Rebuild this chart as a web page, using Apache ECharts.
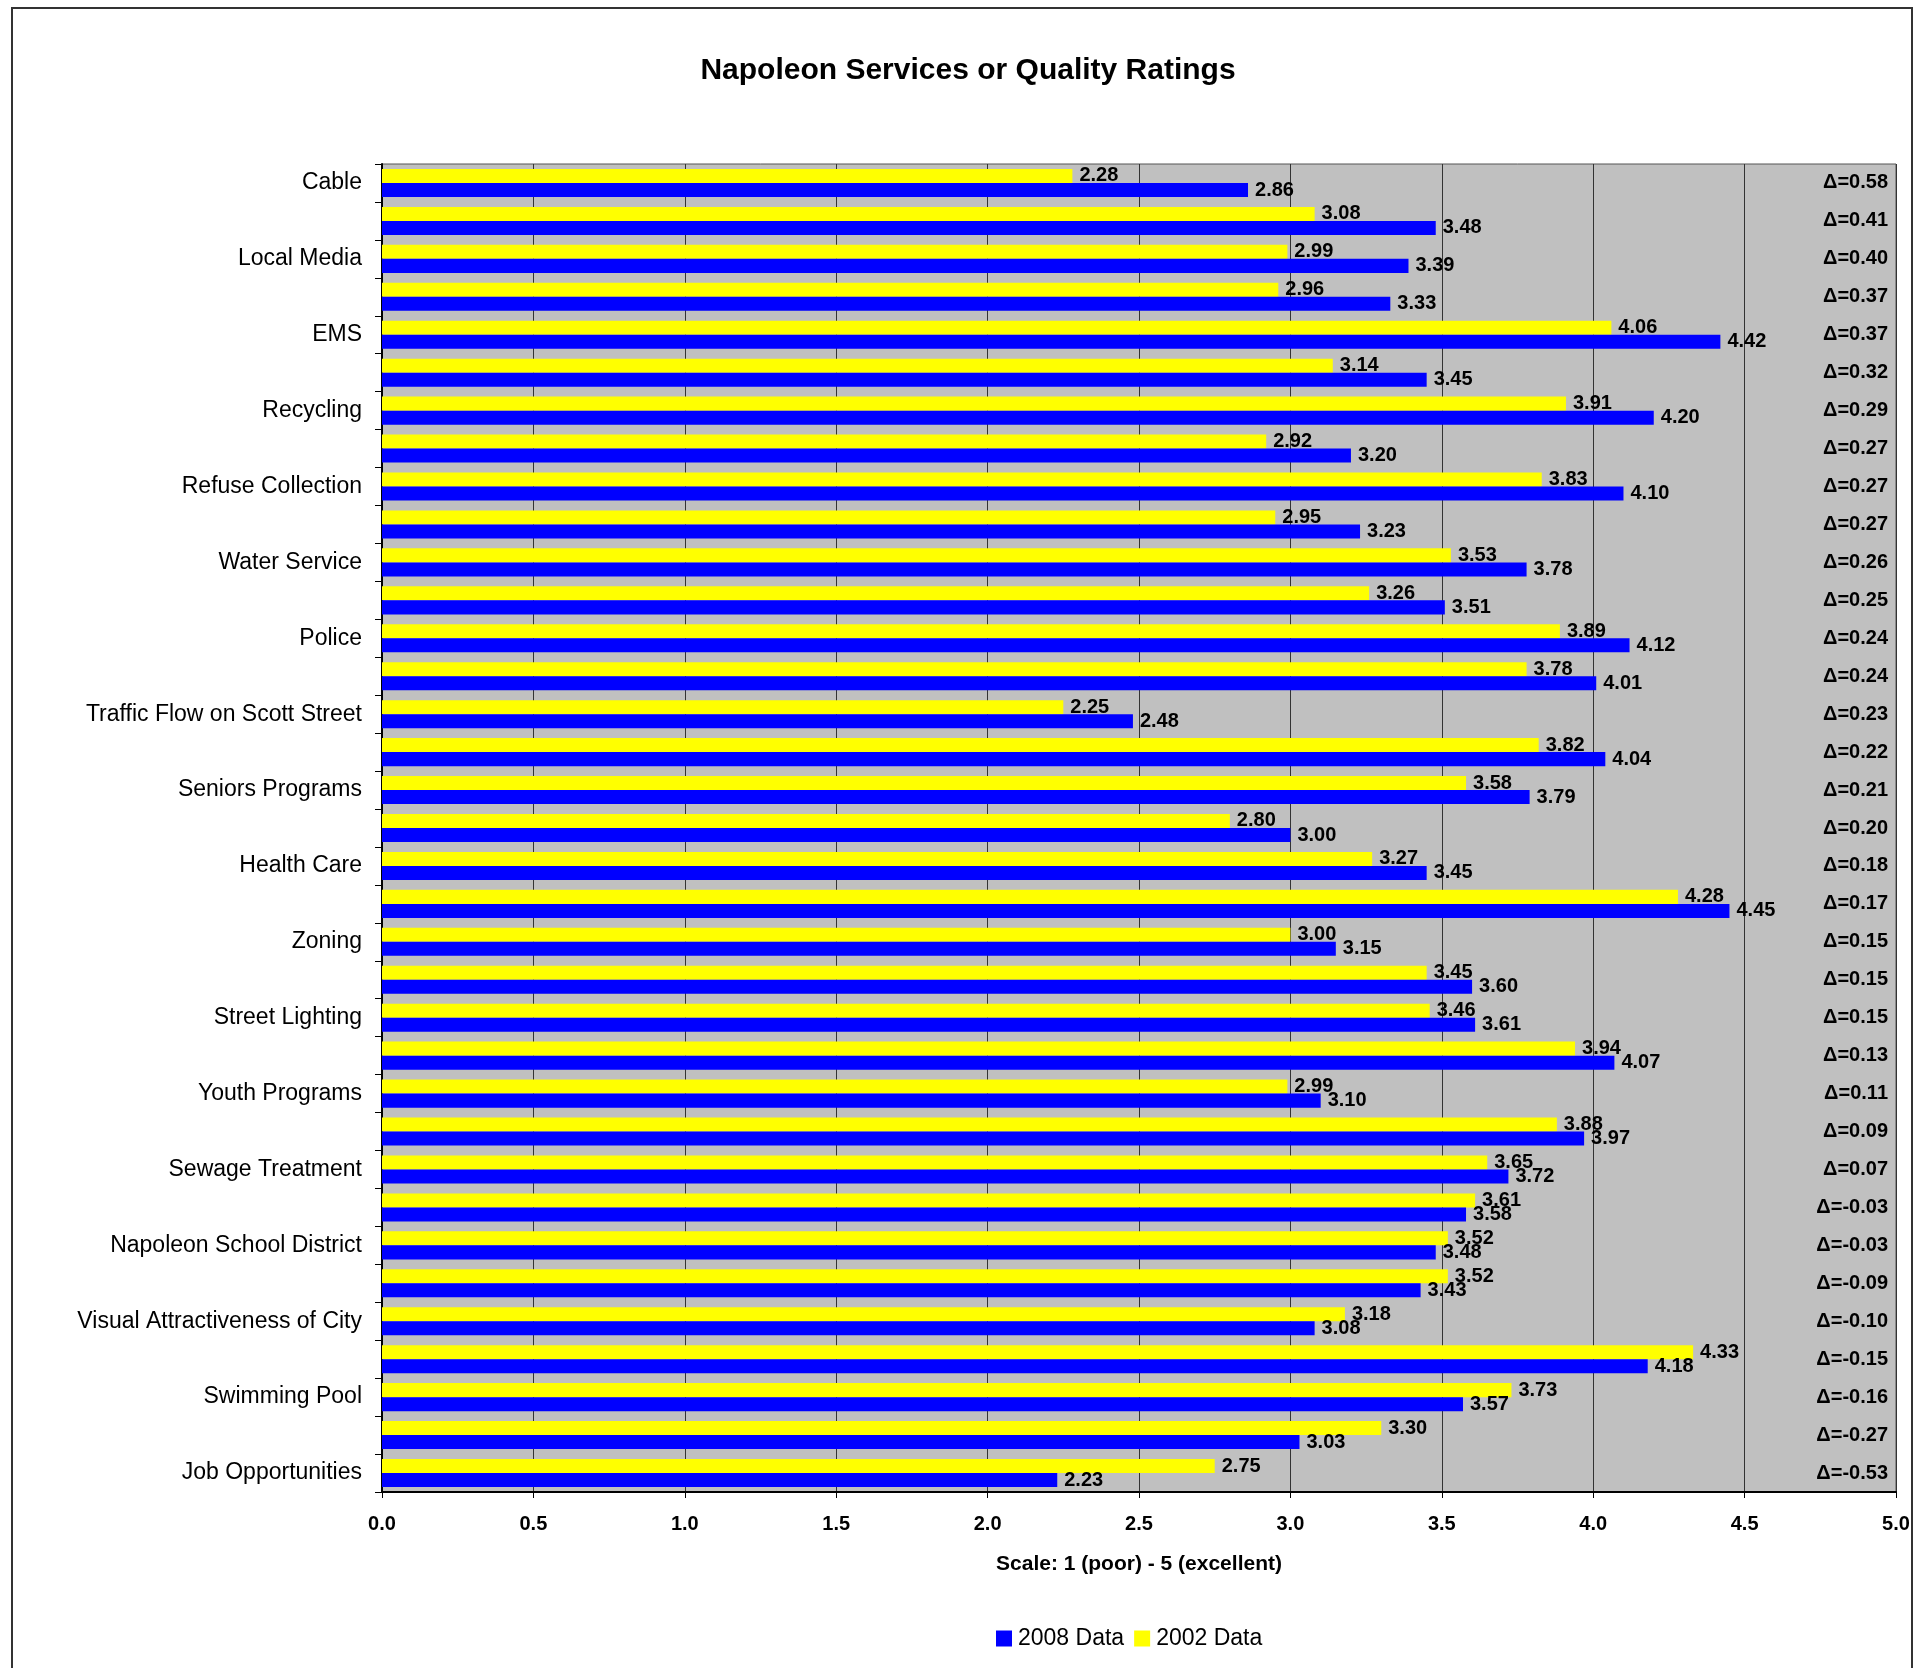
<!DOCTYPE html>
<html>
<head>
<meta charset="utf-8">
<script src="https://cdn.jsdelivr.net/npm/echarts@6/dist/echarts.min.js"></script>
<style>
html,body{margin:0;padding:0;background:#fff;}
#chart{width:1930px;height:1668px;}
</style>
</head>
<body>
<div id="chart"></div>
<script>
// Category labels (only every other row is labelled in the original)
const categories = [
  'Cable', '', 'Local Media', '', 'EMS', '', 'Recycling', '', 'Refuse Collection', '',
  'Water Service', '', 'Police', '', 'Traffic Flow on Scott Street', '', 'Seniors Programs', '',
  'Health Care', '', 'Zoning', '', 'Street Lighting', '', 'Youth Programs', '',
  'Sewage Treatment', '', 'Napoleon School District', '', 'Visual Attractiveness of City', '',
  'Swimming Pool', '', 'Job Opportunities'
];
const data2002 = [
  2.28, 3.08, 2.99, 2.96, 4.06, 3.14, 3.91, 2.92, 3.83, 2.95,
  3.53, 3.26, 3.89, 3.78, 2.25, 3.82, 3.58, 2.80, 3.27, 4.28,
  3.00, 3.45, 3.46, 3.94, 2.99, 3.88, 3.65, 3.61, 3.52, 3.52,
  3.18, 4.33, 3.73, 3.30, 2.75
];
const data2008 = [
  2.86, 3.48, 3.39, 3.33, 4.42, 3.45, 4.20, 3.20, 4.10, 3.23,
  3.78, 3.51, 4.12, 4.01, 2.48, 4.04, 3.79, 3.00, 3.45, 4.45,
  3.15, 3.60, 3.61, 4.07, 3.10, 3.97, 3.72, 3.58, 3.48, 3.43,
  3.08, 4.18, 3.57, 3.03, 2.23
];
const deltas = [
  '0.58', '0.41', '0.40', '0.37', '0.37', '0.32', '0.29', '0.27', '0.27', '0.27',
  '0.26', '0.25', '0.24', '0.24', '0.23', '0.22', '0.21', '0.20', '0.18', '0.17',
  '0.15', '0.15', '0.15', '0.13', '0.11', '0.09', '0.07', '-0.03', '-0.03', '-0.09',
  '-0.10', '-0.15', '-0.16', '-0.27', '-0.53'
];
const xTicks = { min: 0, max: 5, interval: 0.5 };

const FONT = '"Liberation Sans", Arial, sans-serif';

const chart = echarts.init(document.getElementById('chart'), null, { renderer: 'canvas' });

const labelStyle = {
  show: true,
  position: 'right',
  distance: 7,
  formatter: p => p.value.toFixed(2),
  fontFamily: FONT,
  fontWeight: 'bold',
  fontSize: 20,
  color: '#000'
};

chart.setOption({
  backgroundColor: '#ffffff',
  animation: false,
  title: {
    text: 'Napoleon Services or Quality Ratings',
    left: 963,
    textAlign: 'center',
    top: 51,
    textStyle: { fontFamily: FONT, fontWeight: 'bold', fontSize: 30, color: '#000' }
  },
  legend: {
    data: ['2008 Data', '2002 Data'],
    left: 991,
    top: 1622,
    itemWidth: 16,
    itemHeight: 16,
    itemGap: 10,
    icon: 'rect',
    textStyle: { fontFamily: FONT, fontSize: 23, color: '#000', padding: [0, 0, 0, 1] }
  },
  graphic: [{
    type: 'rect',
    shape: { x: 12, y: 8, width: 1900, height: 1700 },
    style: { fill: 'none', stroke: '#333', lineWidth: 2 },
    silent: true,
    z: 100
  }],
  grid: {
    left: 382, right: 34, top: 164, bottom: 176,
    show: true,
    backgroundColor: '#C0C0C0',
    borderColor: '#555',
    borderWidth: 1
  },
  xAxis: {
    type: 'value',
    min: xTicks.min, max: xTicks.max, interval: xTicks.interval,
    name: 'Scale: 1 (poor) - 5 (excellent)',
    nameLocation: 'middle',
    nameGap: 62,
    nameTextStyle: { fontFamily: FONT, fontWeight: 'bold', fontSize: 21, color: '#000' },
    axisLine: { show: true, lineStyle: { color: '#000', width: 2 } },
    axisTick: { show: true, length: 6, lineStyle: { color: '#000' } },
    axisLabel: {
      formatter: v => v.toFixed(1),
      fontFamily: FONT, fontWeight: 'bold', fontSize: 20, color: '#000', margin: 22
    },
    splitLine: { show: true, lineStyle: { color: '#333', width: 1 } }
  },
  yAxis: [{
    type: 'category',
    data: categories,
    inverse: true,
    axisLine: { show: true, lineStyle: { color: '#000', width: 2 } },
    axisTick: { show: true, interval: 0, length: 7, lineStyle: { color: '#000' } },
    axisLabel: { interval: 0, fontFamily: FONT, fontSize: 23, color: '#000', margin: 20 },
    splitLine: { show: false }
  }, {
    type: 'category',
    data: deltas.map(d => 'Δ=' + d),
    inverse: true,
    position: 'right',
    axisLine: { show: false },
    axisTick: { show: false },
    axisLabel: {
      inside: true, interval: 0, margin: 8,
      fontFamily: FONT, fontWeight: 'bold', fontSize: 20, color: '#000'
    }
  }],
  series: [{
    name: '2002 Data',
    type: 'bar',
    data: data2002,
    yAxisIndex: 0,
    barGap: '0%',
    barCategoryGap: '26%',
    itemStyle: { color: '#FFFF00' },
    label: labelStyle,
    z: 3
  }, {
    name: '2008 Data',
    type: 'bar',
    data: data2008,
    yAxisIndex: 0,
    barGap: '0%',
    barCategoryGap: '26%',
    itemStyle: { color: '#0000FF' },
    label: labelStyle,
    z: 3
  }]
});
</script>
</body>
</html>
